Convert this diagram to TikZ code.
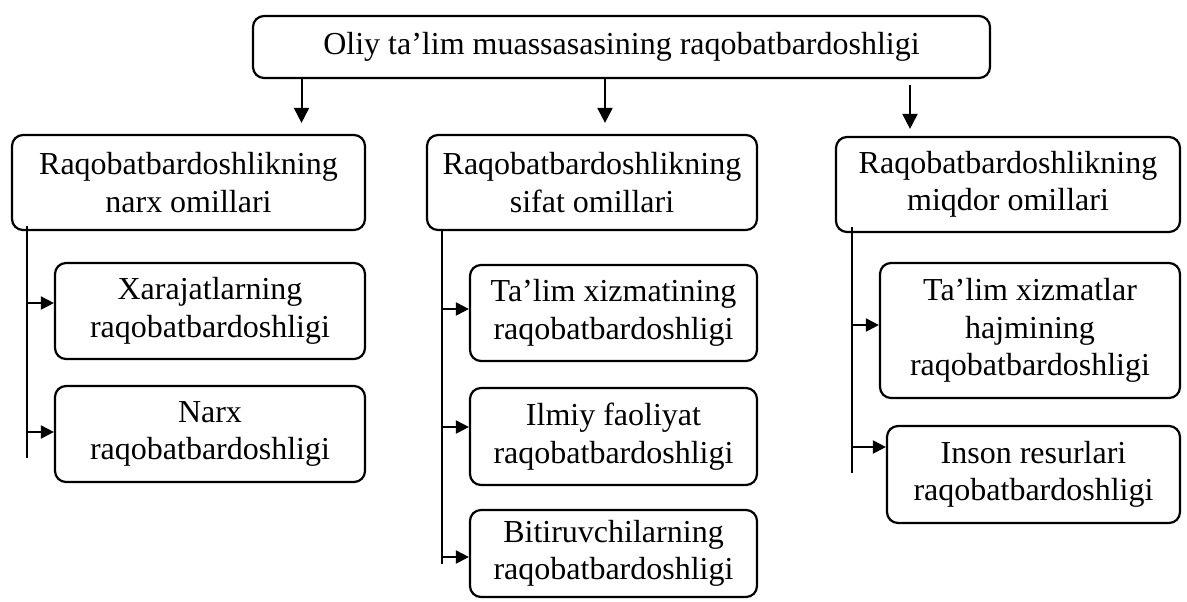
\documentclass[tikz,border=0pt]{standalone}
\usepackage{fontspec}
\setmainfont{Liberation Serif}
\usetikzlibrary{arrows.meta,positioning}

\begin{document}
\begin{tikzpicture}[x=0.5pt,y=-0.5pt,
  box/.style={draw,rounded corners=5.5pt,line width=1.1pt,align=center,inner sep=0pt,
    font=\fontsize{16}{18.7}\selectfont},
  down/.style={-{Triangle[length=7.5pt,width=7.5pt]},line width=1pt},
  trunk/.style={line width=0.6pt},
  branch/.style={-{Triangle[length=6.5pt,width=6.5pt]},line width=1pt}]
  \useasboundingbox (0,0) rectangle (1187,601);
  % top
  \node[box,minimum width=368.5pt,minimum height=31pt] (T) at (621.5,47)
    {Oliy ta’lim muassasasining raqobatbardoshligi};
  % second row
  \node[box,minimum width=176.5pt,minimum height=47.5pt] (P) at (188.5,182.5)
    {Raqobatbardoshlikning\\narx omillari};
  \node[box,minimum width=165pt,minimum height=47.5pt] (S) at (592,182.5)
    {Raqobatbardoshlikning\\sifat omillari};
  \node[box,minimum width=172pt,minimum height=47.5pt] (M) at (1008,184.5)
    {Raqobatbardoshlikning\\miqdor omillari};
  % narx
  \node[box,minimum width=155pt,minimum height=48pt] (P1) at (210,311)
    {Xarajatlarning\\raqobatbardoshligi};
  \node[box,minimum width=155pt,minimum height=48pt] (P2) at (210,434)
    {Narx\\raqobatbardoshligi};
  % sifat
  \node[box,minimum width=143.5pt,minimum height=48pt] (S1) at (613.5,313)
    {Ta’lim xizmatining\\raqobatbardoshligi};
  \node[box,minimum width=143.5pt,minimum height=48.5pt] (S2) at (613.5,436.5)
    {Ilmiy faoliyat\\raqobatbardoshligi};
  \node[box,minimum width=143.5pt,minimum height=43.5pt] (S3) at (613.5,553.5)
    {Bitiruvchilarning\\raqobatbardoshligi};
  % miqdor
  \node[box,minimum width=150pt,minimum height=67.5pt] (M1) at (1030,330.5)
    {Ta’lim xizmatlar\\hajmining\\raqobatbardoshligi};
  \node[box,minimum width=146.5pt,minimum height=48.5pt] (M2) at (1033.5,474.5)
    {Inson resurlari\\raqobatbardoshligi};

  % arrows from the top box
  \coordinate (pa) at ([xshift=56.5pt,yshift=5.5pt]P.north);
  \coordinate (sa) at ([xshift=6.5pt,yshift=5.5pt]S.north);
  \coordinate (ma) at ([xshift=-49pt,yshift=3.5pt]M.north);
  \draw[down] (T.south -| pa) -- (pa);
  \draw[down] (T.south -| sa) -- (sa);
  \draw[down] ([yshift=-3pt]T.south -| ma) -- (ma);

  % trunks
  \draw[trunk] ([xshift=8pt,yshift=2.5pt]P.south west) coordinate (pt) -- ++(0,232);
  \draw[trunk] ([xshift=8pt,yshift=1pt]S.south west) coordinate (st) -- ++(0,335);
  \draw[trunk] ([xshift=8.5pt,yshift=3pt]M.south west) coordinate (mt) -- ++(0,246);

  % branches
  \draw[branch] ([yshift=4pt]P1.west -| pt) -- ([yshift=4pt]P1.west);
  \draw[branch] ([yshift=1pt]P2.west -| pt) -- ([yshift=1pt]P2.west);
  \draw[branch] ([yshift=2pt]S1.west -| st) -- ([yshift=2pt]S1.west);
  \draw[branch] ([yshift=4.75pt]S2.west -| st) -- ([yshift=4.75pt]S2.west);
  \draw[branch] ([yshift=-1.75pt]S3.west -| st) -- ([yshift=-1.75pt]S3.west);
  \draw[branch] ([yshift=2.75pt]M1.west -| mt) -- ([yshift=2.75pt]M1.west);
  \draw[branch] ([yshift=13.75pt]M2.west -| mt) -- ([yshift=13.75pt]M2.west);
\end{tikzpicture}
\end{document}
